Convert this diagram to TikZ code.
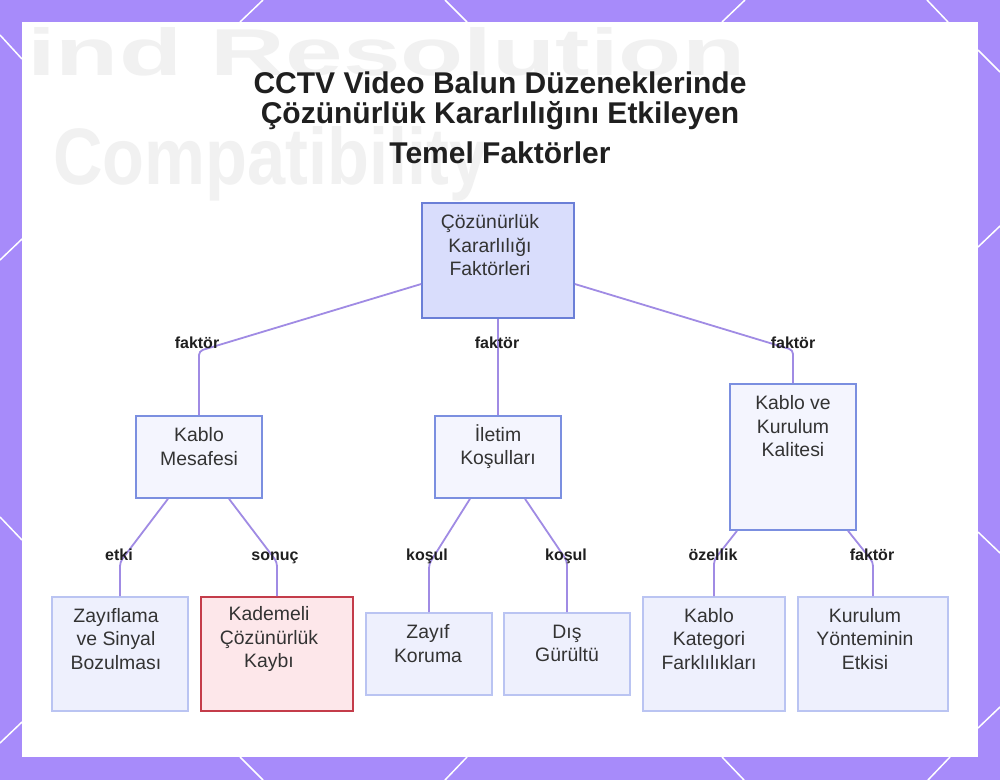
\documentclass[tikz,border=0pt]{standalone}
\usepackage{fontspec}
\setmainfont{Liberation Sans}
\definecolor{bordpurple}{HTML}{A78BFA}
\definecolor{edgecol}{HTML}{A08BE4}
\definecolor{rootfill}{HTML}{D9DDFC}
\definecolor{rootdraw}{HTML}{6B7FD7}
\definecolor{midfill}{HTML}{F4F5FE}
\definecolor{middraw}{HTML}{7B8FE0}
\definecolor{lowfill}{HTML}{EEF0FD}
\definecolor{lowdraw}{HTML}{BAC4F2}
\definecolor{redfill}{HTML}{FDE7EA}
\definecolor{reddraw}{HTML}{C43C4A}
\definecolor{txtcol}{HTML}{333333}
\definecolor{wmcol}{HTML}{F1F1F1}
\tikzset{
  boxbase/.style={draw, line width=1.6pt, inner sep=0pt},
  rootbox/.style={boxbase, fill=rootfill, draw=rootdraw},
  midbox/.style={boxbase, fill=midfill, draw=middraw},
  lowbox/.style={boxbase, fill=lowfill, draw=lowdraw},
  redbox/.style={boxbase, fill=redfill, draw=reddraw},
  boxtext/.style={align=center, inner sep=0pt, text=txtcol, font=\fontsize{19.4pt}{23.5pt}\selectfont},
  edge/.style={draw=edgecol, line width=1.8pt, rounded corners=4pt},
  elabel/.style={inner sep=0pt, anchor=base, text=black!88, font=\fontsize{16pt}{18pt}\selectfont\bfseries},
  titletext/.style={inner sep=0pt, anchor=base, text=black!88, font=\fontsize{30pt}{34pt}\selectfont\bfseries},
  deco/.style={draw=white, line width=1.5pt},
  wmark/.style={inner sep=0pt, text=wmcol}
}
\begin{document}
\begin{tikzpicture}[x=1pt,y=-1pt]
\useasboundingbox (0,0) rectangle (1000,780);
\fill[bordpurple] (0,0) rectangle (1000,780);
% decorative border lines
\foreach \a/\b/\c/\d in {240/22/263/0, 445/0/467/22, 722/22/745/0, 927/0/948/22,
  240/757/263/780, 467/757/445/780, 722/757/744/780, 950/757/928/780,
  0/35/22/59, 0/260/22/239, 0/517/22/540, 0/743/22/722,
  978/50/1000/72, 978/247/1000/226, 978/532/1000/553, 978/728/1000/707}
  \draw[deco] (\a,\b) -- (\c,\d);
\fill[white] (22,22) rectangle (978,757);
% faint watermark of the background picture
\node[wmark, anchor=south west] (wm1) at (27,76) {\resizebox{718pt}{48pt}{\bfseries ind Resolution}};
\node[wmark, anchor=base west] (wm2) at (53,184) {\resizebox{434pt}{58pt}{\bfseries Compatibility}};
% title
\node[titletext] (t1) at (500,93) {CCTV Video Balun Düzeneklerinde};
\node[titletext] (t2) at (500,123) {Çözünürlük Kararlılığını Etkileyen};
\node[titletext] (t3) at (500,163) {Temel Faktörler};
% boxes
\node[rootbox, minimum width=152pt, minimum height=115pt] (root) at (498,260.5) {};
\node[boxtext] (roott) at (490,245.5) {Çözünürlük\\Kararlılığı\\Faktörleri};
\node[midbox, minimum width=126pt, minimum height=82pt] (mes) at (199,457) {};
\node[boxtext] (mest) at (199,446.5) {Kablo\\Mesafesi};
\node[midbox, minimum width=126pt, minimum height=82pt] (ilet) at (498,457) {};
\node[boxtext] (ilett) at (498,446.5) {İletim\\Koşulları};
\node[midbox, minimum width=126pt, minimum height=146pt] (kal) at (793,457) {};
\node[boxtext] (kalt) at (793,426.5) {Kablo ve\\Kurulum\\Kalitesi};
\node[lowbox, minimum width=136pt, minimum height=114pt] (zay) at (120,654) {};
\node[boxtext] (zayt) at (116,639) {Zayıflama\\ve Sinyal\\Bozulması};
\node[redbox, minimum width=152pt, minimum height=114pt] (kad) at (277,654) {};
\node[boxtext] (kadt) at (269,639) {Kademeli\\Çözünürlük\\Kaybı};
\node[lowbox, minimum width=126pt, minimum height=82pt] (kor) at (429,654) {};
\node[boxtext] (kort) at (428,643.5) {Zayıf\\Koruma};
\node[lowbox, minimum width=126pt, minimum height=82pt] (dis) at (567,654) {};
\node[boxtext] (dist) at (567,643.5) {Dış\\Gürültü};
\node[lowbox, minimum width=142pt, minimum height=114pt] (kat) at (714,654) {};
\node[boxtext] (katt) at (709,639) {Kablo\\Kategori\\Farklılıkları};
\node[lowbox, minimum width=150pt, minimum height=114pt] (yon) at (873,654) {};
\node[boxtext] (yont) at (865,639) {Kurulum\\Yönteminin\\Etkisi};
% bend points
\coordinate (c1) at (199,351);
\coordinate (c2) at (793,350);
\coordinate (c3) at (120,562);
\coordinate (c4) at (277,562);
\coordinate (c5) at (429,564);
\coordinate (c6) at (567,561);
\coordinate (c7) at (714,560);
\coordinate (c8) at (873,562);
% edges
\draw[edge] ([yshift=-23.5pt]root.west) -- (c1) -- (mes.north);
\draw[edge] (root.south) -- (ilet.north);
\draw[edge] ([yshift=-23.5pt]root.east) -- (c2) -- (kal.north);
\draw[edge] ([xshift=-31pt]mes.south) -- (c3) -- (zay.north);
\draw[edge] ([xshift=30pt]mes.south) -- (c4) -- (kad.north);
\draw[edge] ([xshift=-28pt]ilet.south) -- (c5) -- (kor.north);
\draw[edge] ([xshift=27pt]ilet.south) -- (c6) -- (dis.north);
\draw[edge] ([xshift=-56pt]kal.south) -- (c7) -- (kat.north);
\draw[edge] ([xshift=55pt]kal.south) -- (c8) -- (yon.north);
% edge labels
\node[elabel] (l1) at (197,348) {faktör};
\node[elabel] (l2) at (497,348) {faktör};
\node[elabel] (l3) at (793,348) {faktör};
\node[elabel] (l4) at (119,560) {etki};
\node[elabel] (l5) at (275,560) {sonuç};
\node[elabel] (l6) at (427,560) {koşul};
\node[elabel] (l7) at (566,560) {koşul};
\node[elabel] (l8) at (713,560) {özellik};
\node[elabel] (l9) at (872,560) {faktör};
\end{tikzpicture}
\end{document}
